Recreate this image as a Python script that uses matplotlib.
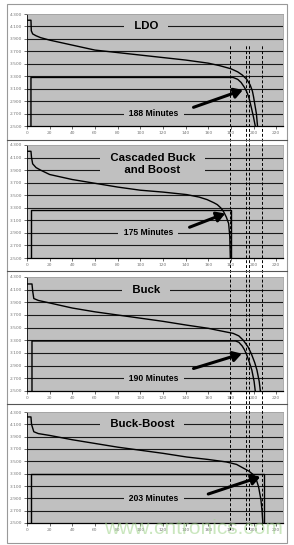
import numpy as np
import matplotlib.pyplot as plt
from matplotlib.patches import Rectangle

# Battery voltage and regulator output voltage vs. time (minutes)
titles = ["LDO", "Cascaded Buck\nand Boost", "Buck", "Buck-Boost"]
runtime_labels = ["188 Minutes", "175 Minutes", "190 Minutes", "203 Minutes"]

ldo_bat_t = [0, 3.5, 3.8, 5, 8, 12, 20, 40, 60, 80, 100, 120, 140, 160, 170, 180, 186, 190, 194, 197, 199, 200, 201, 202.5, 203.5]
ldo_bat_v = [4.20, 4.20, 4.03, 3.98, 3.95, 3.92, 3.88, 3.80, 3.72, 3.68, 3.64, 3.60, 3.56, 3.51, 3.47, 3.42, 3.37, 3.32, 3.25, 3.16, 3.06, 2.97, 2.86, 2.70, 2.50]
ldo_out_t = [3.5, 3.5, 182, 186, 189, 192, 194, 196, 198, 200, 201.5]
ldo_out_v = [2.50, 3.28, 3.28, 3.25, 3.20, 3.12, 3.05, 2.95, 2.80, 2.64, 2.50]

cas_bat_t = [0, 3.5, 4, 5, 8, 12, 20, 40, 60, 80, 100, 120, 141, 152, 159, 165, 168, 171, 173.5, 176, 178, 179, 179.5]
cas_bat_v = [4.20, 4.20, 4.10, 4.00, 3.94, 3.90, 3.83, 3.75, 3.69, 3.63, 3.58, 3.55, 3.51, 3.47, 3.43, 3.38, 3.35, 3.30, 3.24, 3.15, 3.05, 2.85, 2.50]
cas_out_t = [3.5, 3.5, 180, 180]
cas_out_v = [2.50, 3.27, 3.27, 2.50]

buck_bat_t = [0, 4.4, 5, 6, 10, 20, 40, 60, 80, 100, 120, 141, 160, 168, 182, 187, 191, 195, 198, 201, 203, 205, 206]
buck_bat_v = [4.19, 4.19, 4.08, 3.96, 3.93, 3.89, 3.81, 3.75, 3.70, 3.65, 3.60, 3.54, 3.49, 3.46, 3.41, 3.37, 3.30, 3.20, 3.09, 2.95, 2.83, 2.65, 2.50]
buck_out_t = [4.4, 4.4, 184, 187, 190, 192, 194, 196, 198.5, 200.5, 201.5]
buck_out_v = [2.50, 3.29, 3.29, 3.27, 3.21, 3.15, 3.07, 2.97, 2.83, 2.65, 2.50]

bb_bat_t = [0, 3.5, 4, 6, 10, 20, 40, 60, 80, 100, 120, 141, 160, 176, 185, 191, 196, 200, 202.5, 204.4, 206.5, 207.5, 208.2]
bb_bat_v = [4.22, 4.22, 4.10, 3.98, 3.95, 3.92, 3.85, 3.79, 3.73, 3.68, 3.63, 3.57, 3.53, 3.49, 3.45, 3.39, 3.34, 3.28, 3.20, 3.09, 2.88, 2.70, 2.50]
bb_out_t = [3.5, 3.5, 208.8, 208.8]
bb_out_v = [2.50, 3.29, 3.29, 2.50]

battery = [(ldo_bat_t, ldo_bat_v), (cas_bat_t, cas_bat_v), (buck_bat_t, buck_bat_v), (bb_bat_t, bb_bat_v)]
output = [(ldo_out_t, ldo_out_v), (cas_out_t, cas_out_v), (buck_out_t, buck_out_v), (bb_out_t, bb_out_v)]

# end-of-life markers (minutes on the axis)
marker_t = [179.4, 193.2, 196.2, 207.4]

# annotation positions: title (x, y), runtime label (x, y), arrow tail, arrow head
title_pos = [(105, 4.1), (111, 4.0), (105, 4.1), (101.5, 4.1)]
label_pos = [(112, 2.7), (107, 2.9), (112, 2.7), (112, 2.9)]
arrow_from = [(147, 2.80), (143.5, 2.99), (147, 2.855), (160, 2.97)]
arrow_to = [(190.6, 3.08), (175, 3.21), (189.7, 3.09), (206, 3.25)]

x_ticks = np.arange(0, 221, 20)
y_ticks = np.arange(2.5, 4.31, 0.2)

W, H = 294, 545
fig = plt.figure(figsize=(W / 100, H / 100), dpi=100)
fig.patch.set_facecolor('white')

def px_axes(x0, y0, x1, y1):
    return fig.add_axes([x0 / W, 1 - y1 / H, (x1 - x0) / W, (y1 - y0) / H])

panel_y = [(14, 126), (145, 258), (277, 391), (412, 523)]
grey = '#c0c0c0'
font = ['Liberation Sans', 'DejaVu Sans']

for i, (y0, y1) in enumerate(panel_y):
    ax = px_axes(27, y0, 283, y1)
    ax.set_facecolor(grey)
    ax.set_xlim(0, 226)
    ax.set_ylim(2.5, 4.3)
    ax.set_xticks(x_ticks)
    ax.set_yticks(y_ticks)
    ax.set_xticklabels([str(t) for t in x_ticks], fontsize=3.2)
    ax.set_yticklabels(['%.3f' % v for v in y_ticks], fontsize=3.2)
    ax.tick_params(length=2, width=0.5, pad=1.5, colors='#333', labelcolor='#777')
    # inner gridlines only (no dark line at top edge)
    ax.hlines(y_ticks[1:-1], 0, 226, color='#1a1a1a', lw=0.8, zorder=1)
    for s in ['top', 'right']:
        ax.spines[s].set_color('#a0a0a0')
        ax.spines[s].set_linewidth(0.6)
    ax.spines['left'].set_linewidth(0.6)
    ax.spines['bottom'].set_linewidth(0.9)

    bt, bv = battery[i]
    ot, ov = output[i]
    ax.plot(bt, bv, color='black', lw=1.0, zorder=3)
    ax.plot(ot, ov, color='black', lw=1.0, zorder=3)

    ax.text(title_pos[i][0], title_pos[i][1], '   ' + titles[i].replace('\n', '   \n   ') + '   ',
            ha='center', va='center', fontsize=8.2, fontweight='bold', family=font,
            linespacing=1.2, zorder=4, bbox=dict(facecolor=grey, edgecolor='none', pad=0.5))
    ax.annotate('', xy=arrow_to[i], xytext=arrow_from[i], zorder=5,
                arrowprops=dict(arrowstyle='-|>,head_length=0.5,head_width=0.3',
                                lw=2.2, color='black', shrinkA=0, shrinkB=0))
    ax.text(label_pos[i][0], label_pos[i][1], '  ' + runtime_labels[i] + '  ',
            ha='center', va='center', fontsize=6.2, fontweight='bold', family=font,
            zorder=4, bbox=dict(facecolor=grey, edgecolor='none', pad=0.3))

# dashed markers crossing all four panels
ov_ax = px_axes(27, 45, 283, 530)
ov_ax.set_xlim(0, 226)
ov_ax.set_ylim(0, 1)
ov_ax.axis('off')
ov_ax.patch.set_alpha(0)
for t in marker_t:
    ov_ax.axvline(t, color='black', lw=0.7, ls=(0, (3, 2)))

# frame and panel separators
fig.add_artist(Rectangle((7 / W, 1 - 543 / H), 280 / W, 539 / H, transform=fig.transFigure,
                         fill=False, edgecolor='#999', lw=0.8))
for y in [140, 271, 404]:
    fig.add_artist(plt.Line2D([7 / W, 287 / W], [1 - y / H] * 2, color='#555', lw=0.8))

fig.text(193 / W, 1 - 534 / H, 'www.cntronics.com', ha='center', va='baseline',
         fontsize=15, color='#9fd38a', alpha=0.55, family=font)

fig.savefig('out.png', dpi=100)
